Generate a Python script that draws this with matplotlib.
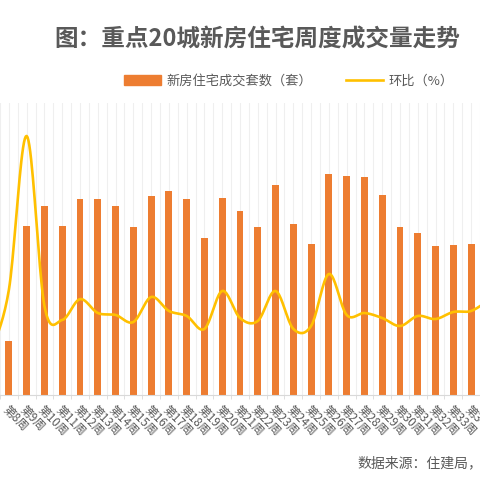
import numpy as np
import matplotlib.pyplot as plt
from matplotlib.patches import Patch
from matplotlib.lines import Line2D

plt.rcParams['font.family'] = ['Noto Sans CJK SC', 'DejaVu Sans']

# weekly new-home sales (units), weeks 8-34
bar_weeks = list(range(8, 35))
sales = [5400, 16900, 18900, 16900, 19600, 19600, 18900, 16800, 19900, 20400,
         19600, 15700, 19700, 18400, 16800, 21000, 17100, 15100, 22100, 21900,
         21800, 20000, 16800, 16200, 14900, 15000, 15100]

# week-on-week change (%), weeks 7-35
line_weeks = list(range(7, 36))
wow = [-41, 32, 213, 13, -3.5, 21, 4.7, 2.4, -5.9, 23.5, 7.1, 1.2, -14, 30.6, -1.2,
       -4.7, 30.6, -14, -10.6, 50.6, 2.4, 4.7, -1.2, -10.6, 1.2, -2.4, 5.9, 7.1, 20]

title = '图：重点20城新房住宅周度成交量走势'
source = '数据来源：住建局，'


def smooth(x, y, n=20):
    # catmull-rom curve through the points, like excel's smoothed line
    pts = np.column_stack([x, y]).astype(float)
    P = np.vstack([pts[0], pts, pts[-1]])
    t = np.linspace(0, 1, n, endpoint=False)[:, None]
    out = []
    for i in range(1, len(P) - 2):
        p0, p1, p2, p3 = P[i - 1], P[i], P[i + 1], P[i + 2]
        seg = 0.5 * (2 * p1 + (-p0 + p2) * t + (2 * p0 - 5 * p1 + 4 * p2 - p3) * t ** 2
                     + (-p0 + 3 * p1 - 3 * p2 + p3) * t ** 3)
        out.append(seg)
    out.append(pts[-1:])
    return np.vstack(out)


orange = '#ED7D31'
gold = '#FFC000'
grey = '#595959'

fig = plt.figure(figsize=(4.8, 4.8), dpi=100)
ax = fig.add_axes([0, 85 / 480, 1, 292 / 480])

for g in np.arange(7.5, 35.5, 0.5):
    ax.axvline(g, color='#efefef', lw=0.8, zorder=0)

ax.bar(bar_weeks, sales, width=0.39, color=orange, zorder=2)
ax.set_xlim(7.75, 34.417)
ax.set_ylim(0, 29200)

ax2 = ax.twinx()
curve = smooth(line_weeks, wow)
ax2.plot(curve[:, 0], curve[:, 1], color=gold, lw=1.9, zorder=3)
ax2.set_ylim(-91.8, 251.8)
ax2.axis('off')

for s in ['top', 'left', 'right']:
    ax.spines[s].set_visible(False)
ax.spines['bottom'].set_color('#d9d9d9')
ax.tick_params(axis='y', which='both', left=False, right=False,
               labelleft=False, labelright=False)
ax.set_xticks(bar_weeks)
ax.set_xticklabels([f'第{w}周' for w in bar_weeks], rotation=-45, ha='left',
                   rotation_mode='anchor', fontsize=8.5, color=grey)
ax.tick_params(axis='x', which='major', length=0, pad=6)
ax.set_xticks(np.arange(7.5, 35, 1), minor=True)
ax.tick_params(axis='x', which='minor', length=3, color='#d9d9d9')

handles = [Patch(color=orange), Line2D([], [], color=gold, lw=1.9)]
fig.legend(handles, ['新房住宅成交套数（套）', '环比（%）'], loc='center',
           bbox_to_anchor=(289 / 480, 1 - 81 / 480), ncol=2, frameon=False,
           fontsize=9.5, labelcolor=grey, handlelength=2.8, handletextpad=0.4,
           columnspacing=2.6)

fig.text(257 / 480, 1 - 40 / 480, title, ha='center', va='center', fontsize=17,
         fontweight='bold', color=grey)
fig.text(357 / 480, 1 - 463 / 480, source, ha='left', va='center', fontsize=10, color=grey)

fig.savefig('out.png', dpi=100)
